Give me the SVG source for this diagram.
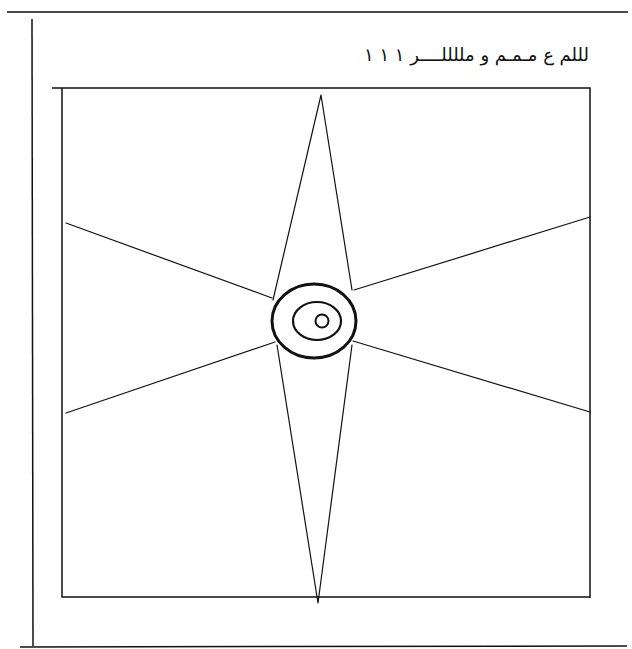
<svg xmlns="http://www.w3.org/2000/svg" width="632" height="649" viewBox="0 0 632 649">
<style>
.frame{fill:none;stroke:#111;stroke-width:1.5}
.ln{fill:none;stroke:#111;stroke-width:1.2;stroke-linecap:round}
.ring{fill:#fff;stroke:#111}
.lbl{font-family:"DejaVu Sans","Noto Sans",sans-serif;font-size:18px;fill:#111}
</style>
<rect width="632" height="649" fill="#fff"/>
<g id="page-frame">
<line class="frame" x1="7" y1="12" x2="628" y2="12"/>
<line class="frame" x1="32" y1="19" x2="33" y2="646"/>
<line class="frame" x1="20" y1="647" x2="627" y2="646"/>
</g>
<g id="title">
<text class="lbl" x="589" y="61" text-anchor="end">لللم ع مـمـم و مللللــــر ١ ١ ١</text>
</g>
<g id="square">
<path class="frame" d="M52,88 L590,88 L590,598 M62,88 L62,597 L590,597"/>
</g>
<g id="connectors">
<path class="ln" d="M321,95 L273,300 M321,95 L352,290 M277,345 L318,603 M352,345 L318,603"/>
<path class="ln" d="M66,223 L272,298 M66,413 L275,342 M590,217 L354,290 M590,412 L353,341"/>
</g>
<g id="center">
<ellipse class="ring" cx="314" cy="321" rx="42" ry="37" stroke-width="3"/>
<ellipse class="ring" cx="317" cy="321" rx="24" ry="19" stroke-width="2.2"/>
<circle class="ring" cx="322" cy="321" r="6.5" stroke-width="2"/>
</g>
</svg>
